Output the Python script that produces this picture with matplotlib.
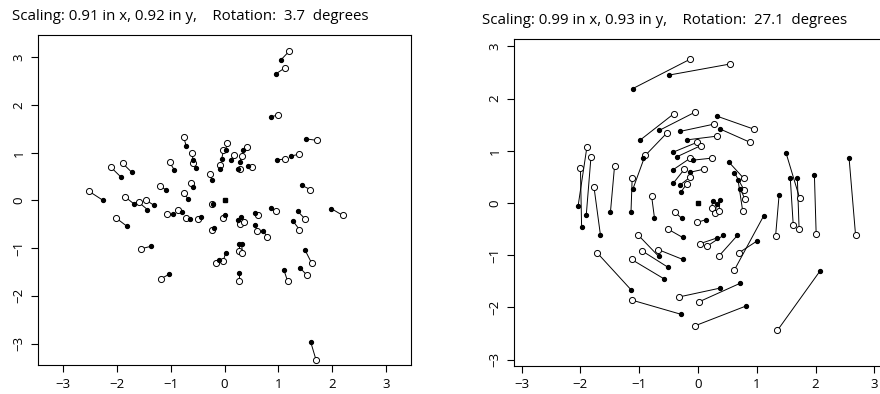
import numpy as np
import matplotlib
matplotlib.use("Agg")
import matplotlib.pyplot as plt

plt.rcParams['font.family'] = ['Open Sans', 'DejaVu Sans']

# left panel: filled = target, open = fitted
left_fx = [-1.92, -1.72, -2.25, -1.67, -1.43, -1.31, -1.08, -1.81, -1.36, -1.03,
           1.04, 0.96, 0.87, -0.71, -0.58, -0.53, -0.93, -0.24, -0.58, -0.68,
           0.02, -0.05, 0.12, -0.08, 0.35, 0.28, 0.25, 0.44, 0.98, 1.23,
           -0.22, -0.95, -0.78, -0.64, -0.43, -0.19, 0.56, 0.86, 0.56, 0.72,
           0.27, 0.32, 0.02, -0.11, 0.27, 1.10, 1.52, 1.43, 1.98, 1.36,
           1.27, 1.49, 1.40, 1.60, 0.00, 0.25, 0.30]
left_fy = [0.49, 0.59, 0.00, -0.08, -0.19, -0.10, 0.22, -0.54, -0.96, -1.55,
           2.94, 2.66, 1.76, 1.14, 0.85, 0.69, 0.64, 0.43, 0.28, 0.04,
           1.05, 0.88, 0.85, 0.65, 1.06, 0.81, 0.65, 0.73, 0.85, 0.93,
           -0.08, -0.29, -0.25, -0.39, -0.34, -0.57, -0.26, -0.16, -0.52, -0.63,
           -0.92, -0.92, -1.10, -1.24, -1.52, -1.45, 1.29, 0.32, -0.17, -0.23,
           -0.43, -1.03, -1.41, -2.97, -0.31, -0.40, -0.35]
left_ox = [-2.11, -1.89, -2.51, -1.85, -1.59, -1.46, -1.20, -2.01, -1.54, -1.18,
           1.20, 1.12, 1.00, -0.76, -0.61, -0.58, -1.02, -0.26, -0.63, -0.76,
           0.05, -0.02, 0.17, -0.08, 0.42, 0.33, 0.29, 0.51, 1.12, 1.38,
           -0.23, -1.07, -0.87, -0.72, -0.50, -0.23, 0.63, 0.95, 0.61, 0.79,
           0.27, 0.33, -0.02, -0.16, 0.27, 1.17, 1.72, 1.59, 2.19, 1.49,
           1.39, 1.62, 1.53, 1.70, -0.02, 0.29, 0.36]
left_oy = [0.70, 0.78, 0.19, 0.08, -0.04, 0.01, 0.30, -0.37, -1.01, -1.64,
           3.13, 2.78, 1.79, 1.34, 0.99, 0.79, 0.80, 0.56, 0.36, 0.16,
           1.20, 1.05, 0.95, 0.75, 1.12, 0.94, 0.67, 0.70, 0.87, 0.97,
           -0.07, -0.29, -0.20, -0.36, -0.38, -0.62, -0.31, -0.22, -0.64, -0.77,
           -1.06, -1.10, -1.26, -1.32, -1.69, -1.69, 1.26, 0.23, -0.31, -0.38,
           -0.61, -1.32, -1.57, -3.35, -0.36, -0.50, -0.45]

# right panel
right_fx = [-1.11, -0.99, -1.98, -2.04, -1.90, -1.66, -1.49, -1.14, -1.11, -0.94,
            -0.49, -0.66, -0.31, 0.33, 0.37, -0.18, -0.43, -0.35, -0.09, -0.42,
            -0.13, -0.42, -0.30, -0.29, 0.52, 0.62, 0.72, 0.68, -0.74, -0.28,
            0.13, -0.26, 0.32, 0.43, 0.67, 0.37, 0.71, 0.82, -1.14, -0.58,
            -0.29, 1.50, 1.57, 1.69, 1.38, 1.98, 2.57, 2.07, 1.12, 1.00,
            -0.67, -0.51, -0.26, 0.25, 0.32, 0.37]
right_fy = [2.19, 1.20, -0.46, -0.06, -0.22, -0.61, -0.18, -0.18, 0.26, 0.86,
            2.45, 1.39, 1.37, 1.66, 1.42, 1.21, 0.97, 0.89, 0.82, 0.64,
            0.59, 0.38, 0.35, 0.21, 0.79, 0.58, 0.27, 0.45, -0.29, -0.29,
            -0.32, -0.66, -0.67, -0.62, -0.62, -1.63, -1.54, -1.97, -1.66, -1.45,
            -2.13, 0.95, 0.47, 0.47, 0.16, 0.54, 0.86, -1.31, -0.24, -0.73,
            -1.02, -1.23, -1.08, 0.03, -0.01, 0.05]
right_ox = [-0.14, -0.41, -2.00, -1.89, -1.82, -1.77, -1.42, -1.12, -0.90, -0.53,
            0.54, -0.05, 0.27, 0.96, 0.89, 0.32, -0.02, 0.05, 0.24, -0.13,
            0.11, -0.23, -0.14, -0.19, 0.78, 0.79, 0.80, 0.76, -0.79, -0.39,
            -0.01, -0.51, 0.03, 0.15, 0.36, -0.33, 0.02, -0.05, -1.71, -1.13,
            -1.12, 1.73, 1.62, 1.72, 1.32, 2.01, 2.68, 1.35, 0.62, 0.70,
            -1.02, -0.96, -0.68, 0.23, 0.29, 0.36]
right_oy = [2.75, 1.71, 0.68, 1.07, 0.89, 0.31, 0.70, 0.47, 0.91, 1.34,
            2.66, 1.74, 1.51, 1.41, 1.16, 1.28, 1.16, 1.10, 0.86, 0.86,
            0.65, 0.65, 0.49, 0.37, 0.47, 0.24, 0.07, -0.15, 0.14, -0.18,
            -0.37, -0.50, -0.78, -0.83, -1.01, -1.80, -1.89, -2.35, -0.96, -1.08,
            -1.86, 0.09, -0.42, -0.50, -0.63, -0.59, -0.61, -2.44, -1.28, -0.95,
            -0.61, -0.91, -0.89, -0.10, -0.20, -0.15]

titles = ["Scaling: 0.91 in x, 0.92 in y,    Rotation:  3.7  degrees",
          "Scaling: 0.99 in x, 0.93 in y,    Rotation:  27.1  degrees"]

fig = plt.figure(figsize=(8.8, 3.94), dpi=100)
ax1 = fig.add_axes([38 / 880, 29 / 394, 373 / 880, 330 / 394])
ax2 = fig.add_axes([514 / 880, 28 / 394, 368 / 880, 327 / 394])


def draw(ax, fx, fy, ox, oy, lim_x, lim_y):
    for a, b, c, d in zip(fx, fy, ox, oy):
        ax.plot([a, c], [b, d], color='black', lw=0.7, zorder=1)
    ax.plot(ox, oy, 'o', ms=4.4, mfc='white', mec='black', mew=0.7, ls='none', zorder=2)
    ax.plot(fx, fy, 'o', ms=2.8, color='black', ls='none', zorder=3)
    ax.plot([0], [0], 's', ms=3.4, color='black', zorder=4)
    ax.set_xlim(lim_x)
    ax.set_ylim(lim_y)
    ax.set_xticks(range(-3, 4))
    ax.set_yticks(range(-3, 4))
    ax.set_xticklabels([str(v).replace('-', '\u2212') for v in range(-3, 4)])
    ax.set_yticklabels([str(v).replace('-', '\u2212') for v in range(-3, 4)],
                       rotation=90, va='center')
    ax.tick_params(direction='out', length=5, width=0.8, labelsize=9.5, pad=4)
    for s in ax.spines.values():
        s.set_linewidth(0.8)


draw(ax1, left_fx, left_fy, left_ox, left_oy, (-3.46, 3.46), (-3.45, 3.47))
draw(ax2, right_fx, right_fy, right_ox, right_oy, (-3.13, 3.13), (-3.12, 3.14))

fig.text(12 / 880, 1 - 17 / 394, titles[0], fontsize=10.8, va='center', ha='left')
fig.text(482 / 880, 1 - 21 / 394, titles[1], fontsize=10.8, va='center', ha='left')

fig.savefig("out.png", dpi=100)
